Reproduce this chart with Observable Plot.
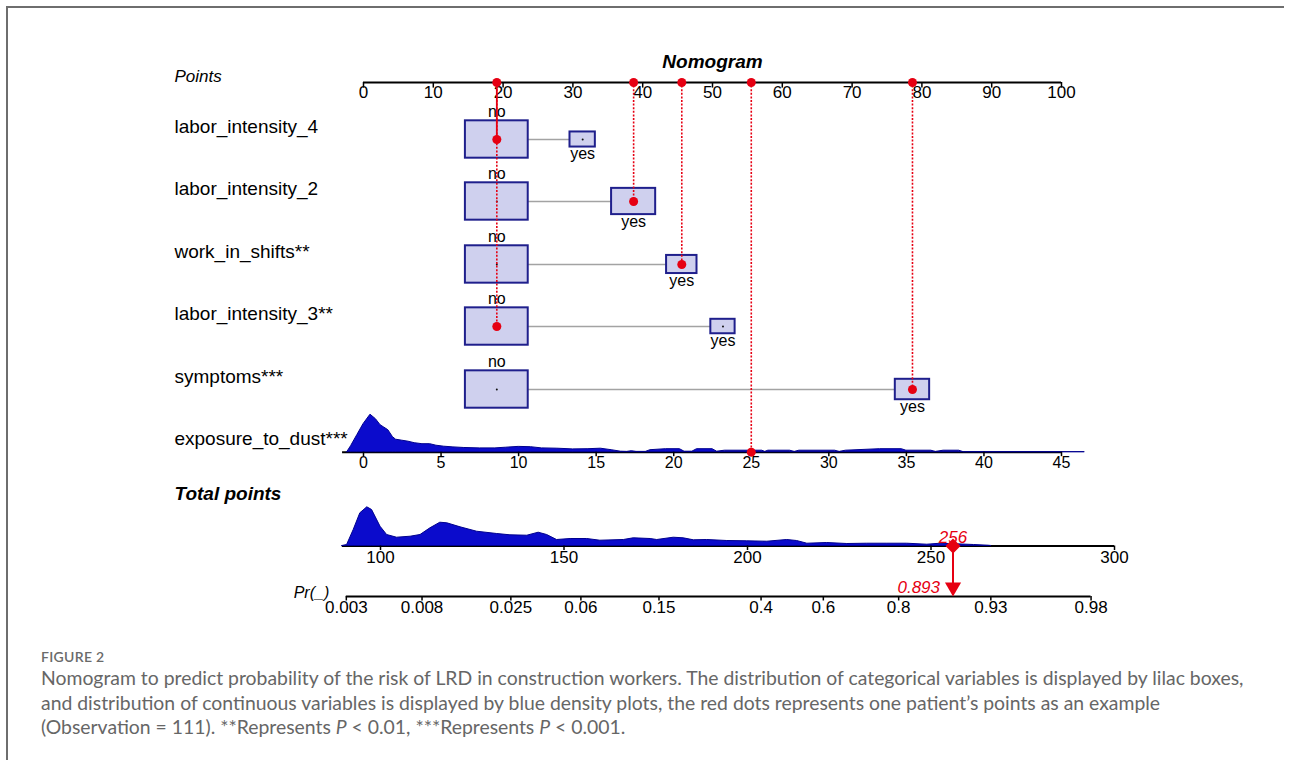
<!DOCTYPE html>
<html>
<head>
<meta charset="utf-8">
<script src="https://cdn.jsdelivr.net/npm/d3@7"></script>
<script src="https://cdn.jsdelivr.net/npm/@observablehq/plot@0.6"></script>
<style>
  html, body { margin: 0; padding: 0; background: #fff; }
  body { width: 1290px; height: 760px; position: relative; overflow: hidden; }
  #frame { position: absolute; left: 6px; top: 6px; width: 1278px; height: 760px;
           border-top: 2px solid #6e6e6e; border-left: 2px solid #6e6e6e; box-sizing: border-box; }
  #chart { position: absolute; left: 0; top: 0; }
  #caption { position: absolute; left: 41px; top: 647px; font-family: Lato, "Open Sans", sans-serif; color: #666; }
  #caption .fig { font-size: 14px; font-weight: 600; letter-spacing: 0.3px; color: #6a6a6a; line-height: 19px; }
  #caption .line { white-space: nowrap; font-size: 18px; line-height: 24.5px; }
</style>
</head>
<body>
<div id="frame"></div>
<div id="chart"></div>
<div id="caption">
  <div class="fig">FIGURE 2</div>
  <div class="line" id="cap1">Nomogram to predict probability of the risk of LRD in construction workers. The distribution of categorical variables is displayed by lilac boxes,</div>
  <div class="line">and distribution of continuous variables is displayed by blue density plots, the red dots represents one patient’s points as an example</div>
  <div class="line">(Observation = 111). **Represents <i>P</i> &lt; 0.01, ***Represents <i>P</i> &lt; 0.001.</div>
</div>
<script>
// ---------- data ----------
const variables   = ["labor_intensity_4", "labor_intensity_2", "work_in_shifts**", "labor_intensity_3**", "symptoms***"];
const pointsNo    = [19.1, 19.1, 19.1, 19.1, 19.1];
const pointsYes   = [31.4, 38.7, 45.6, 51.5, 78.65];
const freqNo      = [0.86, 0.67, 0.81, 0.87, 0.77];
const freqYes     = [0.14, 0.33, 0.19, 0.13, 0.23];
const patientLevel = ["no", "yes", "yes", "no", "yes"];

const contVar = "exposure_to_dust***";
const exposureAtMaxPoints = 45;        // 45 units -> 100 points
const patientExposure = 25;
const patientTotal = 256;
const patientProbLabel = "0.893";

const pointsTicks = [0, 10, 20, 30, 40, 50, 60, 70, 80, 90, 100];
const exposureTicks = [0, 5, 10, 15, 20, 25, 30, 35, 40, 45];
const totalTicks = [100, 150, 200, 250, 300];
const probTicks = [0.003, 0.008, 0.025, 0.06, 0.15, 0.4, 0.6, 0.8, 0.93, 0.98];

// density of exposure_to_dust (value, relative density)
const expoDensX = [-1.05,-0.8,-0.4,0,0.45,0.8,1.1,1.3,1.6,1.9,2.1,2.5,2.9,3.3,3.8,4.3,4.7,5.2,5.8,6.5,7.5,8.5,9.2,10,10.8,11.5,12.5,13.5,14.5,15.3,16,16.6,17.0,17.3,17.6,18.2,18.5,19.5,20.4,20.7,21.2,21.5,22.5,22.8,23.3,25.7,25.9,26.1,27.5,27.8,28.1,30.4,30.7,31.1,33.3,34.7,35.0,36.6,36.9,37.4,38.4,38.7,46.5];
const expoDensY = [0,6,17,28,37.5,33,27,25,22,15,12.5,11.5,10.5,9,8,8,6.5,5.5,4.8,4.2,3.8,3.8,4.5,5.3,5,3.8,3.5,2.8,3,3.5,2,0.5,0.3,1,0.3,0.3,2,3,3,0.5,0.5,3,3,0.5,1.5,1.5,0.3,1.5,1.5,0.3,1.5,1.5,0.3,1.5,3,3,1.5,1.5,0.3,1.5,1.5,0,0];

// density of total points (total, relative density)
const totalDensX = [89.6,90.9,92.7,94.5,96.4,97.7,100,101.8,104.5,108.2,110.9,113.6,116.3,118.2,121.8,126.3,131.8,135.4,140,143.1,145.4,148.1,151.8,156.3,159.9,166.3,169,173.6,175.4,179.9,182.6,185.4,189,194.5,199.9,205.4,210.8,213.5,216.3,221.7,227.2,232.6,238.1,243.5,249,252.6,257.1,261.7,265.7,266.5];
const totalDensY = [0,1,16,32.7,38.7,36,19.3,11,8.3,9.3,11,17.7,23.3,22.7,18.7,14.3,12,10.7,10.3,13.3,11,6,7,7,5.3,6,7.7,7,6,8.3,7.7,5.7,6,5,4.7,4.3,6,5,2.3,3,2,2.3,2.3,2.3,1.3,2.3,1.7,1,0.3,0];

// model: logit(Pr) = b0 + b1 * total
const logitB0 = -10.14, logitB1 = 0.04779;

// ---------- layout (row units) ----------
const rowY = [0.915, 1.91, 2.921, 3.917, 4.928];
const expoRow = 5.934, totalLabelRow = 6.6, totalRow = 7.44, probRow = 8.25;
const boxW = 9.0, boxH = 0.6, densScale = 1 / 62.3;
const labelX = -27.08, prLabelX = -10.0;

// ---------- transforms ----------
const expoToPts = e => e * 100 / exposureAtMaxPoints;
const totalToPts = t => 2.436 + (t - 100) * 0.52579;
const probToTotal = p => (Math.log(p / (1 - p)) - logitB0) / logitB1;
const probToPts = p => totalToPts(probToTotal(p));

const boxes = [];
const links = [];
variables.forEach((v, i) => {
  const fmax = Math.max(freqNo[i], freqYes[i]);
  const mk = (level, pts, f) => {
    const s = Math.sqrt(f / fmax);
    return {v, level, pts, row: rowY[i], w: boxW * s, h: boxH * s};
  };
  const bn = mk("no", pointsNo[i], freqNo[i]);
  const by = mk("yes", pointsYes[i], freqYes[i]);
  boxes.push(bn, by);
  links.push({row: rowY[i], x1: bn.pts + bn.w / 2, x2: by.pts - by.w / 2});
});

const patient = variables.map((v, i) => ({
  v, row: rowY[i], pts: patientLevel[i] === "yes" ? pointsYes[i] : pointsNo[i], i
}));
const patientExpoPts = expoToPts(patientExposure);
const redLines = [...patient.map(d => ({x: d.pts, y2: d.row, solid: d.i === 0})),
                  {x: patientExpoPts, y2: expoRow, solid: false}];
const topDots = Array.from(new Set(redLines.map(d => d.x)));

const expoDens = expoDensX.map((x, i) => ({x, d: expoDensY[i]}));
const totalDens = totalDensX.map((x, i) => ({x, d: totalDensY[i]}));

const red = "#e60012", lilac = "#cfd0ee", navy = "#1f1f8c", blue = "#0b0bcc";
const tickLen = 0.09;

const chart = Plot.plot({
  width: 1290, height: 625,
  marginLeft: 363, marginRight: 229, marginTop: 0, marginBottom: 0,
  x: {domain: [0, 100], axis: null},
  y: {domain: [0, 10], range: [82, 705], axis: null},
  style: {fontFamily: "'Liberation Sans', Arial, sans-serif", fontSize: "17px", color: "black", background: "transparent", overflow: "visible"},
  marks: [
    // title + Points axis
    Plot.text(["Nomogram"], {x: 50, y: -0.337, text: d => d, fontWeight: "bold", fontStyle: "italic", fontSize: 19}),
    Plot.text(["Points"], {x: labelX, y: -0.096, text: d => d, textAnchor: "start", fontStyle: "italic", fontSize: 17}),
    Plot.ruleY([0], {x1: 0, x2: 100, strokeWidth: 2}),
    Plot.ruleX(pointsTicks, {x: d => d, y1: 0, y2: tickLen, strokeWidth: 1.5}),
    Plot.text(pointsTicks, {x: d => d, y: 0, dy: 10, text: d => String(d), fontSize: 17}),

    // categorical rows
    Plot.text(variables, {x: labelX, y: (d, i) => rowY[i], dy: -13, text: d => d, textAnchor: "start", fontSize: 19}),
    Plot.ruleY(links, {y: "row", x1: "x1", x2: "x2", stroke: "#a3a3a3", strokeWidth: 1.5}),
    Plot.rect(boxes, {x1: d => d.pts - d.w / 2, x2: d => d.pts + d.w / 2, y1: d => d.row - d.h / 2, y2: d => d.row + d.h / 2,
                      fill: lilac, stroke: navy, strokeWidth: 2}),
    Plot.dot(boxes, {x: "pts", y: "row", r: 1, fill: "#111"}),
    Plot.text(boxes.filter(d => d.level === "no"), {x: "pts", y: d => d.row - d.h / 2, dy: -9, text: "level", fontSize: 16}),
    Plot.text(boxes.filter(d => d.level === "yes"), {x: "pts", y: d => d.row + d.h / 2, dy: 7, text: "level", fontSize: 16}),

    // exposure_to_dust
    Plot.text([contVar], {x: labelX, y: expoRow, dy: -13, text: d => d, textAnchor: "start", fontSize: 19}),
    Plot.ruleY([expoRow], {x1: expoToPts(-1.35), x2: 100, strokeWidth: 2}),
    Plot.areaY(expoDens, {x: d => expoToPts(d.x), y1: expoRow, y2: d => expoRow - d.d * densScale, fill: blue, stroke: "#00008f", strokeWidth: 1, curve: "linear"}),
    Plot.ruleX(exposureTicks, {x: expoToPts, y1: expoRow, y2: expoRow + tickLen * 0.8, strokeWidth: 1.5}),
    Plot.text(exposureTicks, {x: expoToPts, y: expoRow, dy: 11, text: d => String(d), fontSize: 16}),

    // Total points
    Plot.text(["Total points"], {x: labelX, y: totalLabelRow, text: d => d, textAnchor: "start", fontWeight: "bold", fontStyle: "italic", fontSize: 19}),
    Plot.ruleY([totalRow], {x1: totalToPts(89.6), x2: totalToPts(300), strokeWidth: 2}),
    Plot.areaY(totalDens, {x: d => totalToPts(d.x), y1: totalRow, y2: d => totalRow - d.d * densScale, fill: blue, stroke: "#00008f", strokeWidth: 1}),
    Plot.ruleX(totalTicks, {x: totalToPts, y1: totalRow, y2: totalRow + tickLen * 0.8, strokeWidth: 1.5}),
    Plot.text(totalTicks, {x: totalToPts, y: totalRow, dy: 12, text: d => String(d), fontSize: 17}),

    // Probability
    Plot.text(["Pr(_)"], {x: prLabelX, y: probRow, dy: -4, text: d => d, textAnchor: "start", fontStyle: "italic", fontSize: 16}),
    Plot.ruleY([probRow], {x1: probToPts(0.003), x2: probToPts(0.98), strokeWidth: 2}),
    Plot.ruleX(probTicks, {x: probToPts, y1: probRow, y2: probRow + tickLen * 0.8, strokeWidth: 1.5}),
    Plot.text(probTicks, {x: probToPts, y: probRow, dy: 11, text: d => String(d), fontSize: 17}),

    // patient example
    Plot.ruleX(redLines.filter(d => !d.solid), {x: "x", y1: 0, y2: "y2", stroke: red, strokeWidth: 1.6, strokeDasharray: "2,1.6"}),
    Plot.ruleX(redLines.filter(d => d.solid), {x: "x", y1: 0, y2: "y2", stroke: red, strokeWidth: 1.8}),
    Plot.dot(topDots, {x: d => d, y: 0, r: 4.5, fill: red}),
    Plot.dot(patient, {x: "pts", y: "row", r: 4.5, fill: red}),
    Plot.dot([patientExpoPts], {x: d => d, y: expoRow, r: 4.5, fill: red}),
    Plot.ruleX([patientTotal], {x: totalToPts, y1: totalRow, y2: probRow - 0.15, stroke: red, strokeWidth: 2}),
    Plot.dot([patientTotal], {x: totalToPts, y: totalRow, symbol: "diamond2", r: 6.8, fill: red}),
    Plot.dot([patientTotal], {x: totalToPts, y: probRow, dy: -9.2, symbol: "triangle", rotate: 180, r: 6, fill: red}),
    Plot.text([patientTotal], {x: totalToPts, y: totalRow, dy: -8, text: d => String(d), fill: red, fontStyle: "italic", fontSize: 17}),
    Plot.text([patientProbLabel], {x: () => totalToPts(patientTotal), y: probRow, dx: -13, dy: -9, text: d => d, textAnchor: "end", fill: red, fontStyle: "italic", fontSize: 17})
  ]
});
document.getElementById("chart").appendChild(chart);

// fit caption width to the reference line length
const cap1 = document.getElementById("cap1");
const w = cap1.getBoundingClientRect().width;
const fs = 18 * 1204 / w;
document.querySelectorAll("#caption .line").forEach(el => el.style.fontSize = fs + "px");
</script>
</body>
</html>
